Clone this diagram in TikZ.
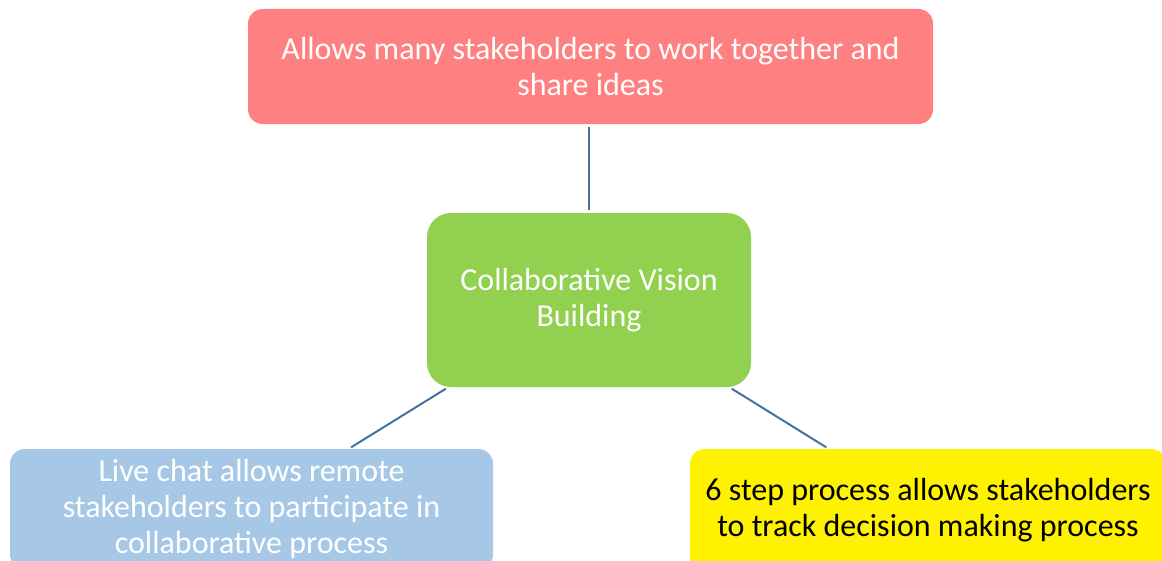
\documentclass[tikz,border=0pt]{standalone}
\usepackage{fontspec}
\setmainfont{Carlito}
\usetikzlibrary{positioning}
\definecolor{ideapink}{RGB}{255,128,128}
\definecolor{visiongreen}{RGB}{146,208,80}
\definecolor{chatblue}{RGB}{166,200,230}
\definecolor{linkblue}{RGB}{68,114,160}
\tikzset{
bubble/.style={rectangle, rounded corners=11pt, align=center, inner sep=0pt, font=\fontsize{24}{27}\selectfont}, % box around each idea
link/.style={draw=linkblue, line width=1.5pt, shorten <=2pt, shorten >=2pt}, % plain connector, no tips
}

\begin{document}
\begin{tikzpicture}[x=0.75pt, y=-0.75pt]
                \useasboundingbox (0,0) rectangle (1162,560);
                \clip (0,0) rectangle (1162,560); % the lower boxes run off the page

                \node[bubble, fill=ideapink, text=white, minimum width=513.75pt, minimum height=86.25pt] (ideas) at (590.5,66.5) {Allows many stakeholders to work together and\\share ideas};
                \node[bubble, fill=visiongreen, text=white, rounded corners=18pt, minimum width=243pt, minimum height=130.5pt] (vision) at (589,300) {Collaborative Vision\\Building};
                \node[bubble, fill=chatblue, text=white, minimum width=362.25pt, minimum height=90pt] (chat) at (251.5,509) {Live chat allows remote\\stakeholders to participate in\\collaborative process};
                \node[bubble, fill=yellow, text=black, minimum width=357pt, minimum height=92.25pt] (steps) at (928,510.5) {6 step process allows stakeholders\\to track decision making process};

                \draw[link] (ideas.south -| vision.north) -- (vision.north);
                \draw[link] (vision) -- (chat);
                \draw[link] (vision) -- (steps);
\end{tikzpicture}
\end{document}
